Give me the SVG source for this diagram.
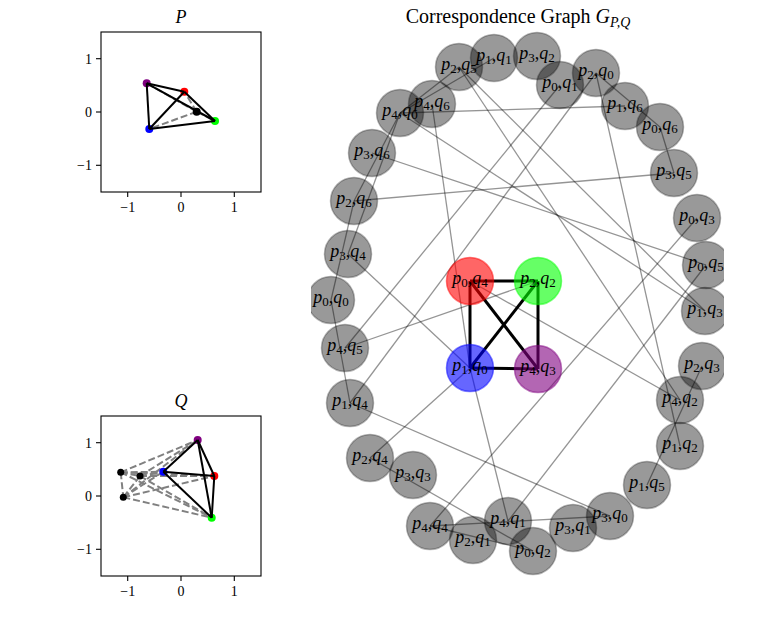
<svg xmlns="http://www.w3.org/2000/svg" width="772" height="621" viewBox="0 0 772 621">
<style>
.bg{fill:#fff}
.spine{fill:none;stroke:#000;stroke-width:1.1}
.tick{stroke:#000;stroke-width:1.1}
.tl{font-family:"Liberation Serif","DejaVu Serif",serif;font-size:14px;fill:#000}
.ttl{font-family:"Liberation Serif","DejaVu Serif",serif;font-size:18px;fill:#000}
.gt{font-family:"Liberation Serif","DejaVu Serif",serif;font-size:20px;fill:#000}
.gts{font-size:14px}
.sol{stroke:#000;stroke-width:2;fill:none}
.dsh{stroke:#808080;stroke-width:2;stroke-dasharray:7,3;fill:none}
.ge{stroke:#000;stroke-opacity:0.42;stroke-width:1.3;fill:none}
.be{stroke:#000;stroke-width:3;fill:none}
.gn{fill:#000;fill-opacity:0.4;stroke:#000;stroke-opacity:0.28;stroke-width:1.5}
.cn{fill-opacity:0.6;stroke-opacity:0.5;stroke-width:1.5}
.lbl{font-family:"Liberation Serif","DejaVu Serif",serif;font-size:18px;fill:#000;text-anchor:middle}
.i{font-style:italic}
.s{font-size:13px}
</style>
<defs>
<clipPath id="gclip"><rect x="311" y="0" width="413" height="621"/></clipPath>
</defs>
<rect class="bg" x="0" y="0" width="772" height="621"/>

<!-- P panel -->
<g id="panelP">
<text class="ttl i" x="181" y="23" text-anchor="middle">P</text>
<g id="P-edges">
<line class="dsh" x1="196.7" y1="111.7" x2="184.3" y2="91.7"/>
<line class="dsh" x1="196.7" y1="111.7" x2="215" y2="121"/>
<line class="dsh" x1="196.7" y1="111.7" x2="149.3" y2="129"/>
<line class="dsh" x1="196.7" y1="111.7" x2="146.7" y2="83.3"/>
</g>
<g id="P-points">
<circle cx="184.3" cy="91.7" r="4" fill="#ff0000"/>
<circle cx="215" cy="121" r="4" fill="#00ff00"/>
<circle cx="149.3" cy="129" r="4" fill="#0000ff"/>
<circle cx="146.7" cy="83.3" r="4" fill="#800080"/>
<circle cx="196.7" cy="111.7" r="4" fill="#000"/>
</g>
<g id="P-solid">
<line class="sol" x1="146.7" y1="83.3" x2="184.3" y2="91.7"/>
<line class="sol" x1="146.7" y1="83.3" x2="215" y2="121"/>
<line class="sol" x1="146.7" y1="83.3" x2="149.3" y2="129"/>
<line class="sol" x1="184.3" y1="91.7" x2="149.3" y2="129"/>
<line class="sol" x1="184.3" y1="91.7" x2="215" y2="121"/>
<line class="sol" x1="149.3" y1="129" x2="215" y2="121"/>
</g>
<rect class="spine" x="101" y="32" width="160" height="160"/>
<g id="P-ticks">
<line class="tick" x1="127.7" y1="192" x2="127.7" y2="197"/>
<line class="tick" x1="181" y1="192" x2="181" y2="197"/>
<line class="tick" x1="234.3" y1="192" x2="234.3" y2="197"/>
<line class="tick" x1="96" y1="58.7" x2="101" y2="58.7"/>
<line class="tick" x1="96" y1="112" x2="101" y2="112"/>
<line class="tick" x1="96" y1="165.3" x2="101" y2="165.3"/>
<text class="tl" x="127.7" y="212" text-anchor="middle">−1</text>
<text class="tl" x="181" y="212" text-anchor="middle">0</text>
<text class="tl" x="234.3" y="212" text-anchor="middle">1</text>
<text class="tl" x="92" y="63.5" text-anchor="end">1</text>
<text class="tl" x="92" y="116.8" text-anchor="end">0</text>
<text class="tl" x="92" y="170.1" text-anchor="end">−1</text>
</g>
</g>

<!-- Q panel -->
<g id="panelQ">
<text class="ttl i" x="181" y="407" text-anchor="middle">Q</text>
<g id="Q-edges">
<line class="dsh" x1="120.7" y1="472.3" x2="214.3" y2="476"/>
<line class="dsh" x1="120.7" y1="472.3" x2="211.7" y2="517.7"/>
<line class="dsh" x1="120.7" y1="472.3" x2="163.3" y2="471.7"/>
<line class="dsh" x1="120.7" y1="472.3" x2="197.7" y2="440"/>
<line class="dsh" x1="140" y1="476" x2="214.3" y2="476"/>
<line class="dsh" x1="140" y1="476" x2="211.7" y2="517.7"/>
<line class="dsh" x1="140" y1="476" x2="163.3" y2="471.7"/>
<line class="dsh" x1="140" y1="476" x2="197.7" y2="440"/>
<line class="dsh" x1="123.3" y1="497.3" x2="214.3" y2="476"/>
<line class="dsh" x1="123.3" y1="497.3" x2="211.7" y2="517.7"/>
<line class="dsh" x1="123.3" y1="497.3" x2="163.3" y2="471.7"/>
<line class="dsh" x1="123.3" y1="497.3" x2="197.7" y2="440"/>
<line class="dsh" x1="120.7" y1="472.3" x2="140" y2="476"/>
<line class="dsh" x1="120.7" y1="472.3" x2="123.3" y2="497.3"/>
<line class="dsh" x1="140" y1="476" x2="123.3" y2="497.3"/>
</g>
<g id="Q-points">
<circle cx="214.3" cy="476" r="4" fill="#ff0000"/>
<circle cx="211.7" cy="517.7" r="4" fill="#00ff00"/>
<circle cx="163.3" cy="471.7" r="4" fill="#0000ff"/>
<circle cx="197.7" cy="440" r="4" fill="#800080"/>
<circle cx="120.7" cy="472.3" r="3.5" fill="#000"/>
<circle cx="140" cy="476" r="3.5" fill="#000"/>
<circle cx="123.3" cy="497.3" r="3.5" fill="#000"/>
</g>
<g id="Q-solid">
<line class="sol" x1="197.7" y1="440" x2="163.3" y2="471.7"/>
<line class="sol" x1="197.7" y1="440" x2="214.3" y2="476"/>
<line class="sol" x1="197.7" y1="440" x2="211.7" y2="517.7"/>
<line class="sol" x1="163.3" y1="471.7" x2="214.3" y2="476"/>
<line class="sol" x1="163.3" y1="471.7" x2="211.7" y2="517.7"/>
<line class="sol" x1="214.3" y1="476" x2="211.7" y2="517.7"/>
</g>
<rect class="spine" x="101" y="416" width="160" height="160"/>
<g id="Q-ticks">
<line class="tick" x1="127.7" y1="576" x2="127.7" y2="581"/>
<line class="tick" x1="181" y1="576" x2="181" y2="581"/>
<line class="tick" x1="234.3" y1="576" x2="234.3" y2="581"/>
<line class="tick" x1="96" y1="442.7" x2="101" y2="442.7"/>
<line class="tick" x1="96" y1="496" x2="101" y2="496"/>
<line class="tick" x1="96" y1="549.3" x2="101" y2="549.3"/>
<text class="tl" x="127.7" y="596" text-anchor="middle">−1</text>
<text class="tl" x="181" y="596" text-anchor="middle">0</text>
<text class="tl" x="234.3" y="596" text-anchor="middle">1</text>
<text class="tl" x="92" y="447.5" text-anchor="end">1</text>
<text class="tl" x="92" y="500.8" text-anchor="end">0</text>
<text class="tl" x="92" y="554.1" text-anchor="end">−1</text>
</g>
</g>

<!-- Graph -->
<text class="gt" x="518" y="23" text-anchor="middle">Correspondence Graph <tspan class="i">G</tspan><tspan class="i gts" dy="4">P,Q</tspan></text>
<g id="graph" clip-path="url(#gclip)">
<g id="connectors">
<line class="ge" x1="400" y1="113" x2="625" y2="106"/>
<line class="ge" x1="432" y1="104" x2="470" y2="368"/>
<line class="ge" x1="400" y1="113" x2="705" y2="311"/>
<line class="ge" x1="372" y1="153" x2="706" y2="265"/>
<line class="ge" x1="459" y1="67" x2="705" y2="311"/>
<line class="ge" x1="459" y1="67" x2="680" y2="400"/>
<line class="ge" x1="345" y1="348" x2="560" y2="85"/>
<line class="ge" x1="350" y1="403" x2="596" y2="73"/>
<line class="ge" x1="350" y1="403" x2="610" y2="516"/>
<line class="ge" x1="400" y1="113" x2="348" y2="254"/>
<line class="ge" x1="354" y1="201" x2="331" y2="300"/>
<line class="ge" x1="331" y1="300" x2="350" y2="403"/>
<line class="ge" x1="354" y1="201" x2="674" y2="173"/>
<line class="ge" x1="596" y1="73" x2="660" y2="127"/>
<line class="ge" x1="660" y1="127" x2="674" y2="173"/>
<line class="ge" x1="596" y1="73" x2="680" y2="446"/>
<line class="ge" x1="697" y1="218" x2="430" y2="526"/>
<line class="ge" x1="706" y1="265" x2="508" y2="521"/>
<line class="ge" x1="702" y1="366" x2="647" y2="485"/>
<line class="ge" x1="348" y1="254" x2="470" y2="368"/>
<line class="ge" x1="345" y1="348" x2="538" y2="281"/>
<line class="ge" x1="470" y1="281" x2="680" y2="400"/>
<line class="ge" x1="470" y1="368" x2="370" y2="458"/>
<line class="ge" x1="470" y1="368" x2="508" y2="521"/>
<line class="ge" x1="370" y1="458" x2="533" y2="551"/>
<line class="ge" x1="430" y1="526" x2="610" y2="516"/>
<line class="ge" x1="430" y1="526" x2="533" y2="551"/>
<line class="ge" x1="459" y1="67" x2="400" y2="113"/>
<line class="ge" x1="494" y1="58" x2="400" y2="113"/>
<line class="ge" x1="400" y1="113" x2="354" y2="201"/>
<line class="be" x1="470" y1="281" x2="538" y2="281"/>
<line class="be" x1="470" y1="281" x2="470" y2="368"/>
<line class="be" x1="538" y1="281" x2="538" y2="369"/>
<line class="be" x1="470" y1="368" x2="538" y2="369"/>
<line class="be" x1="470" y1="281" x2="538" y2="369"/>
<line class="be" x1="538" y1="281" x2="470" y2="368"/>
</g>
<g id="nodes">
<g id="n-p1q1"><circle class="gn" cx="494" cy="58" r="23.5"/></g>
<g id="n-p3q2"><circle class="gn" cx="537" cy="56" r="23.5"/></g>
<g id="n-p2q5"><circle class="gn" cx="459" cy="67" r="23.5"/></g>
<g id="n-p0q1"><circle class="gn" cx="560" cy="85" r="23.5"/></g>
<g id="n-p2q0"><circle class="gn" cx="596" cy="73" r="23.5"/></g>
<g id="n-p1q6"><circle class="gn" cx="625" cy="106" r="23.5"/></g>
<g id="n-p0q6"><circle class="gn" cx="660" cy="127" r="23.5"/></g>
<g id="n-p3q5"><circle class="gn" cx="674" cy="173" r="23.5"/></g>
<g id="n-p0q3"><circle class="gn" cx="697" cy="218" r="23.5"/></g>
<g id="n-p0q5"><circle class="gn" cx="706" cy="265" r="23.5"/></g>
<g id="n-p1q3"><circle class="gn" cx="705" cy="311" r="23.5"/></g>
<g id="n-p2q3"><circle class="gn" cx="702" cy="366" r="23.5"/></g>
<g id="n-p4q2"><circle class="gn" cx="680" cy="400" r="23.5"/></g>
<g id="n-p1q2"><circle class="gn" cx="680" cy="446" r="23.5"/></g>
<g id="n-p1q5"><circle class="gn" cx="647" cy="485" r="23.5"/></g>
<g id="n-p3q0"><circle class="gn" cx="610" cy="516" r="23.5"/></g>
<g id="n-p3q1"><circle class="gn" cx="573" cy="528" r="23.5"/></g>
<g id="n-p0q2"><circle class="gn" cx="533" cy="551" r="23.5"/></g>
<g id="n-p4q1"><circle class="gn" cx="508" cy="521" r="23.5"/></g>
<g id="n-p2q1"><circle class="gn" cx="473" cy="540" r="23.5"/></g>
<g id="n-p4q4"><circle class="gn" cx="430" cy="526" r="23.5"/></g>
<g id="n-p3q3"><circle class="gn" cx="413" cy="475" r="23.5"/></g>
<g id="n-p2q4"><circle class="gn" cx="370" cy="458" r="23.5"/></g>
<g id="n-p1q4"><circle class="gn" cx="350" cy="403" r="23.5"/></g>
<g id="n-p4q5"><circle class="gn" cx="345" cy="348" r="23.5"/></g>
<g id="n-p0q0"><circle class="gn" cx="331" cy="300" r="23.5"/></g>
<g id="n-p3q4"><circle class="gn" cx="348" cy="254" r="23.5"/></g>
<g id="n-p2q6"><circle class="gn" cx="354" cy="201" r="23.5"/></g>
<g id="n-p3q6"><circle class="gn" cx="372" cy="153" r="23.5"/></g>
<g id="n-p4q0"><circle class="gn" cx="400" cy="113" r="23.5"/></g>
<g id="n-p4q6"><circle class="gn" cx="432" cy="104" r="23.5"/></g>
<g id="n-p0q4"><circle class="cn" cx="470" cy="281" r="23.5" fill="#ff0000" stroke="#ff0000"/></g>
<g id="n-p2q2"><circle class="cn" cx="538" cy="281" r="23.5" fill="#00ff00" stroke="#00ff00"/></g>
<g id="n-p1q0"><circle class="cn" cx="470" cy="368" r="23.5" fill="#0000ff" stroke="#0000ff"/></g>
<g id="n-p4q3"><circle class="cn" cx="538" cy="369" r="23.5" fill="#800080" stroke="#800080"/></g>
</g>
<g id="labels">
<text class="lbl" x="494" y="61"><tspan class="i">p</tspan><tspan class="s" dy="3">1</tspan><tspan dy="-3">,</tspan><tspan class="i">q</tspan><tspan class="s" dy="3">1</tspan></text>
<text class="lbl" x="537" y="59"><tspan class="i">p</tspan><tspan class="s" dy="3">3</tspan><tspan dy="-3">,</tspan><tspan class="i">q</tspan><tspan class="s" dy="3">2</tspan></text>
<text class="lbl" x="459" y="70"><tspan class="i">p</tspan><tspan class="s" dy="3">2</tspan><tspan dy="-3">,</tspan><tspan class="i">q</tspan><tspan class="s" dy="3">5</tspan></text>
<text class="lbl" x="560" y="88"><tspan class="i">p</tspan><tspan class="s" dy="3">0</tspan><tspan dy="-3">,</tspan><tspan class="i">q</tspan><tspan class="s" dy="3">1</tspan></text>
<text class="lbl" x="596" y="76"><tspan class="i">p</tspan><tspan class="s" dy="3">2</tspan><tspan dy="-3">,</tspan><tspan class="i">q</tspan><tspan class="s" dy="3">0</tspan></text>
<text class="lbl" x="625" y="109"><tspan class="i">p</tspan><tspan class="s" dy="3">1</tspan><tspan dy="-3">,</tspan><tspan class="i">q</tspan><tspan class="s" dy="3">6</tspan></text>
<text class="lbl" x="660" y="130"><tspan class="i">p</tspan><tspan class="s" dy="3">0</tspan><tspan dy="-3">,</tspan><tspan class="i">q</tspan><tspan class="s" dy="3">6</tspan></text>
<text class="lbl" x="674" y="176"><tspan class="i">p</tspan><tspan class="s" dy="3">3</tspan><tspan dy="-3">,</tspan><tspan class="i">q</tspan><tspan class="s" dy="3">5</tspan></text>
<text class="lbl" x="697" y="221"><tspan class="i">p</tspan><tspan class="s" dy="3">0</tspan><tspan dy="-3">,</tspan><tspan class="i">q</tspan><tspan class="s" dy="3">3</tspan></text>
<text class="lbl" x="706" y="268"><tspan class="i">p</tspan><tspan class="s" dy="3">0</tspan><tspan dy="-3">,</tspan><tspan class="i">q</tspan><tspan class="s" dy="3">5</tspan></text>
<text class="lbl" x="705" y="314"><tspan class="i">p</tspan><tspan class="s" dy="3">1</tspan><tspan dy="-3">,</tspan><tspan class="i">q</tspan><tspan class="s" dy="3">3</tspan></text>
<text class="lbl" x="702" y="369"><tspan class="i">p</tspan><tspan class="s" dy="3">2</tspan><tspan dy="-3">,</tspan><tspan class="i">q</tspan><tspan class="s" dy="3">3</tspan></text>
<text class="lbl" x="680" y="403"><tspan class="i">p</tspan><tspan class="s" dy="3">4</tspan><tspan dy="-3">,</tspan><tspan class="i">q</tspan><tspan class="s" dy="3">2</tspan></text>
<text class="lbl" x="680" y="449"><tspan class="i">p</tspan><tspan class="s" dy="3">1</tspan><tspan dy="-3">,</tspan><tspan class="i">q</tspan><tspan class="s" dy="3">2</tspan></text>
<text class="lbl" x="647" y="488"><tspan class="i">p</tspan><tspan class="s" dy="3">1</tspan><tspan dy="-3">,</tspan><tspan class="i">q</tspan><tspan class="s" dy="3">5</tspan></text>
<text class="lbl" x="610" y="519"><tspan class="i">p</tspan><tspan class="s" dy="3">3</tspan><tspan dy="-3">,</tspan><tspan class="i">q</tspan><tspan class="s" dy="3">0</tspan></text>
<text class="lbl" x="573" y="531"><tspan class="i">p</tspan><tspan class="s" dy="3">3</tspan><tspan dy="-3">,</tspan><tspan class="i">q</tspan><tspan class="s" dy="3">1</tspan></text>
<text class="lbl" x="533" y="554"><tspan class="i">p</tspan><tspan class="s" dy="3">0</tspan><tspan dy="-3">,</tspan><tspan class="i">q</tspan><tspan class="s" dy="3">2</tspan></text>
<text class="lbl" x="508" y="524"><tspan class="i">p</tspan><tspan class="s" dy="3">4</tspan><tspan dy="-3">,</tspan><tspan class="i">q</tspan><tspan class="s" dy="3">1</tspan></text>
<text class="lbl" x="473" y="543"><tspan class="i">p</tspan><tspan class="s" dy="3">2</tspan><tspan dy="-3">,</tspan><tspan class="i">q</tspan><tspan class="s" dy="3">1</tspan></text>
<text class="lbl" x="430" y="529"><tspan class="i">p</tspan><tspan class="s" dy="3">4</tspan><tspan dy="-3">,</tspan><tspan class="i">q</tspan><tspan class="s" dy="3">4</tspan></text>
<text class="lbl" x="413" y="478"><tspan class="i">p</tspan><tspan class="s" dy="3">3</tspan><tspan dy="-3">,</tspan><tspan class="i">q</tspan><tspan class="s" dy="3">3</tspan></text>
<text class="lbl" x="370" y="461"><tspan class="i">p</tspan><tspan class="s" dy="3">2</tspan><tspan dy="-3">,</tspan><tspan class="i">q</tspan><tspan class="s" dy="3">4</tspan></text>
<text class="lbl" x="350" y="406"><tspan class="i">p</tspan><tspan class="s" dy="3">1</tspan><tspan dy="-3">,</tspan><tspan class="i">q</tspan><tspan class="s" dy="3">4</tspan></text>
<text class="lbl" x="345" y="351"><tspan class="i">p</tspan><tspan class="s" dy="3">4</tspan><tspan dy="-3">,</tspan><tspan class="i">q</tspan><tspan class="s" dy="3">5</tspan></text>
<text class="lbl" x="331" y="303"><tspan class="i">p</tspan><tspan class="s" dy="3">0</tspan><tspan dy="-3">,</tspan><tspan class="i">q</tspan><tspan class="s" dy="3">0</tspan></text>
<text class="lbl" x="348" y="257"><tspan class="i">p</tspan><tspan class="s" dy="3">3</tspan><tspan dy="-3">,</tspan><tspan class="i">q</tspan><tspan class="s" dy="3">4</tspan></text>
<text class="lbl" x="354" y="204"><tspan class="i">p</tspan><tspan class="s" dy="3">2</tspan><tspan dy="-3">,</tspan><tspan class="i">q</tspan><tspan class="s" dy="3">6</tspan></text>
<text class="lbl" x="372" y="156"><tspan class="i">p</tspan><tspan class="s" dy="3">3</tspan><tspan dy="-3">,</tspan><tspan class="i">q</tspan><tspan class="s" dy="3">6</tspan></text>
<text class="lbl" x="400" y="116"><tspan class="i">p</tspan><tspan class="s" dy="3">4</tspan><tspan dy="-3">,</tspan><tspan class="i">q</tspan><tspan class="s" dy="3">0</tspan></text>
<text class="lbl" x="432" y="107"><tspan class="i">p</tspan><tspan class="s" dy="3">4</tspan><tspan dy="-3">,</tspan><tspan class="i">q</tspan><tspan class="s" dy="3">6</tspan></text>
<text class="lbl" x="470" y="284"><tspan class="i">p</tspan><tspan class="s" dy="3">0</tspan><tspan dy="-3">,</tspan><tspan class="i">q</tspan><tspan class="s" dy="3">4</tspan></text>
<text class="lbl" x="538" y="284"><tspan class="i">p</tspan><tspan class="s" dy="3">2</tspan><tspan dy="-3">,</tspan><tspan class="i">q</tspan><tspan class="s" dy="3">2</tspan></text>
<text class="lbl" x="470" y="371"><tspan class="i">p</tspan><tspan class="s" dy="3">1</tspan><tspan dy="-3">,</tspan><tspan class="i">q</tspan><tspan class="s" dy="3">0</tspan></text>
<text class="lbl" x="538" y="372"><tspan class="i">p</tspan><tspan class="s" dy="3">4</tspan><tspan dy="-3">,</tspan><tspan class="i">q</tspan><tspan class="s" dy="3">3</tspan></text>
</g>
</g>
</svg>
